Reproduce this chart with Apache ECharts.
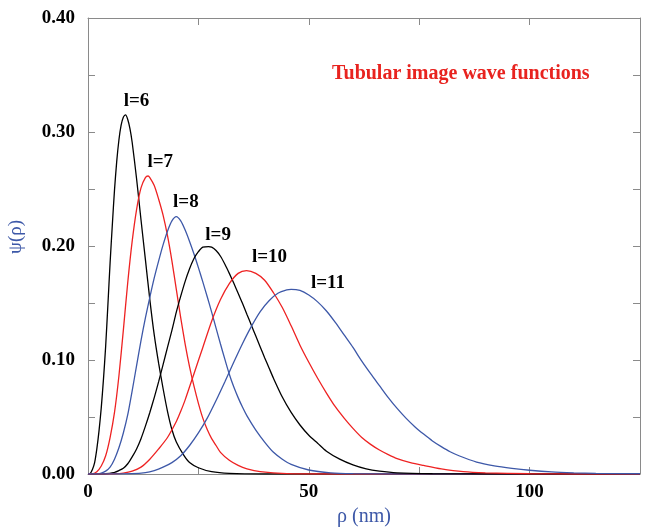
<!DOCTYPE html>
<html><head><meta charset="utf-8">
<script src="https://cdn.jsdelivr.net/npm/echarts@6/dist/echarts.min.js"></script>
<style>html,body{margin:0;padding:0;background:#fff}#c{width:645px;height:527px}</style>
</head><body><div id="c"></div>
<script>
// ---- data (rho in nm, psi) ----
const curveNames = ['l=6', 'l=7', 'l=8', 'l=9', 'l=10', 'l=11'];

const psiL6 = [[0,0],[0.5,0.0005],[1,0.004],[1.5,0.010],[2,0.022],[2.5,0.038],[3,0.058],[3.5,0.083],[4,0.112],[4.5,0.148],[5,0.185],[5.5,0.218],[6,0.249],[6.5,0.274],[7,0.293],[7.5,0.306],[8,0.313],[8.5,0.315],[9,0.311],[9.5,0.303],[10,0.291],[11,0.259],[12,0.223],[13,0.188],[14,0.153],[15,0.122],[16,0.097],[17,0.075],[18,0.055],[19,0.039],[20,0.028],[21.6,0.017],[23,0.010],[25,0.0055],[28,0.002],[32,0.0005],[40,0],[125,0]];

const psiL7 = [[0,0],[1,0.0002],[2,0.002],[3,0.007],[4,0.016],[5,0.032],[6,0.054],[7,0.086],[8,0.126],[9,0.168],[10,0.204],[11,0.232],[12,0.251],[13,0.260],[13.6,0.2614],[14,0.260],[15,0.253],[16,0.241],[17,0.227],[18,0.209],[19,0.187],[20,0.162],[21,0.137],[22,0.114],[23,0.094],[24,0.077],[25,0.062],[26,0.049],[27,0.039],[28,0.031],[29,0.025],[30,0.019],[32,0.012],[34,0.0075],[36,0.0045],[39,0.002],[45,0.0003],[55,0],[125,0]];

const psiL8 = [[0,0],[2,0.0002],[3,0.0008],[4,0.0025],[5,0.006],[6,0.013],[7,0.023],[8,0.036],[9,0.052],[10,0.073],[11,0.095],[12,0.117],[13,0.137],[14,0.155],[15,0.172],[16,0.187],[17,0.201],[18,0.213],[19,0.222],[20,0.2257],[21,0.222],[22,0.214],[23,0.204],[24,0.193],[25,0.181],[26,0.1685],[27,0.1555],[28,0.142],[29,0.128],[30,0.114],[31,0.1005],[32,0.0875],[33,0.0765],[34,0.067],[35,0.0585],[36,0.051],[38,0.0385],[40,0.028],[42,0.019],[44,0.013],[46,0.0085],[50,0.0035],[55,0.001],[60,0.0003],[70,0],[125,0]];

const psiL9 = [[0,0],[4,0.0002],[6,0.0015],[7,0.003],[8,0.005],[9,0.009],[10,0.015],[11,0.022],[12,0.031],[13,0.042],[14,0.054],[15,0.067],[16,0.081],[17,0.096],[18,0.111],[19,0.126],[20,0.142],[21,0.156],[22,0.169],[23,0.180],[24,0.189],[25,0.195],[26,0.199],[27.3,0.1994],[28,0.199],[29,0.196],[30,0.191],[31,0.184],[32,0.176],[33,0.1675],[34,0.1585],[35,0.1495],[36,0.140],[37,0.1305],[38,0.121],[39,0.1115],[40,0.102],[41,0.093],[42,0.084],[44,0.0675],[46,0.054],[48,0.043],[50,0.034],[52,0.027],[54,0.020],[57,0.013],[60,0.008],[63,0.0045],[66,0.0025],[70,0.001],[78,0.0002],[90,0],[125,0]];

const psiL10 = [[0,0],[6,0.0002],[8,0.0008],[10,0.0025],[12,0.006],[14,0.013],[16,0.022],[18,0.032],[20,0.046],[21,0.055],[22,0.065],[24,0.088],[26,0.111],[28,0.134],[30,0.153],[32,0.167],[34,0.176],[35.9,0.1784],[38,0.176],[40,0.170],[42,0.159],[44,0.146],[46,0.130],[48,0.113],[50,0.098],[52,0.084],[54,0.071],[56,0.059],[58,0.049],[60,0.040],[62,0.032],[64,0.026],[66,0.021],[68,0.017],[70,0.0135],[73,0.010],[76,0.0075],[80,0.0045],[85,0.002],[90,0.001],[100,0.0002],[110,0],[125,0]];

const psiL11 = [[0,0],[10,0.0003],[13,0.0012],[15,0.003],[17,0.006],[19,0.010],[21,0.016],[23,0.025],[25,0.036],[27,0.049],[29,0.0645],[31,0.081],[33,0.098],[35,0.1145],[37,0.1295],[39,0.1425],[41,0.152],[43,0.1585],[45,0.1615],[46,0.162],[48,0.161],[50,0.157],[52,0.151],[54,0.143],[56,0.133],[58,0.122],[60,0.111],[62,0.099],[64,0.088],[66,0.0775],[68,0.067],[70,0.0575],[72,0.049],[74,0.0415],[76,0.035],[78,0.029],[80,0.024],[82,0.0195],[84,0.016],[88,0.0105],[92,0.0072],[96,0.005],[100,0.0033],[105,0.0018],[110,0.001],[115,0.0005],[125,0.0002]];

// where each curve label sits (data coordinates)
const labelAnchors = [[10.99,0.3272],[16.35,0.2737],[22.16,0.2382],[29.46,0.2096],[41.1,0.1899],[54.33,0.1673]];

const xTickLabels = [0, 50, 100];
const yTickLabels = ['0.00', '0.10', '0.20', '0.30', '0.40'];
const chartNote = 'Tubular image wave functions';
const xTitle = 'ρ (nm)';
const yTitle = 'ψ(ρ)';

// ---- styling ----
const allCurves = [psiL6, psiL7, psiL8, psiL9, psiL10, psiL11];
const lineColors = ['#000000', '#ee2222', '#3d58a8', '#000000', '#ee2222', '#3d58a8'];
const SERIF = '"Liberation Serif", "Times New Roman", serif';
const frameColor = '#8a8a8a';

const chart = echarts.init(document.getElementById('c'), null, {renderer: 'canvas'});

function xAxisDef(pos, labels) {
  return {
    type: 'value', position: pos, min: 0, max: 125, interval: 25,
    axisLine: {show: true, onZero: false, lineStyle: {color: frameColor, width: 1}},
    axisTick: {show: true, inside: true, length: 7, lineStyle: {color: frameColor, width: 1}},
    splitLine: {show: false},
    axisLabel: labels ? {
      show: true, margin: 9, color: '#000', fontFamily: SERIF, fontWeight: 'bold', fontSize: 19,
      formatter: v => xTickLabels.indexOf(Math.round(v)) >= 0 && Math.abs(v - Math.round(v)) < 1e-6 ? String(Math.round(v)) : ''
    } : {show: false},
    name: labels ? xTitle : '',
    nameLocation: 'middle', nameGap: 32,
    nameTextStyle: {color: '#3d58a8', fontFamily: SERIF, fontSize: 20}
  };
}
function yAxisDef(pos, labels) {
  return {
    type: 'value', position: pos, min: 0, max: 0.4, interval: 0.05,
    axisLine: {show: true, onZero: false, lineStyle: {color: frameColor, width: 1}},
    axisTick: {show: true, inside: true, length: 7, lineStyle: {color: frameColor, width: 1}},
    splitLine: {show: false},
    axisLabel: labels ? {
      show: true, margin: 13, color: '#000', fontFamily: SERIF, fontWeight: 'bold', fontSize: 19,
      formatter: v => { const s = v.toFixed(2); return yTickLabels.indexOf(s) >= 0 ? s : ''; }
    } : {show: false},
    name: labels ? yTitle : '',
    nameLocation: 'middle', nameGap: 62, nameRotate: 90,
    nameTextStyle: {color: '#3d58a8', fontFamily: SERIF, fontSize: 19, padding: [0, 0, 0, 18]}
  };
}

const series = allCurves.map((d, i) => ({
  type: 'line', name: curveNames[i], data: d, xAxisIndex: 0, yAxisIndex: 0,
  showSymbol: false, smooth: 0.25, clip: true,
  lineStyle: {color: lineColors[i], width: 1.3},
  itemStyle: {color: lineColors[i]},
  markPoint: {
    symbol: 'circle', symbolSize: 0, silent: true, animation: false,
    label: {show: true, position: 'inside', formatter: '{b}', color: '#000',
            fontFamily: SERIF, fontWeight: 'bold', fontSize: 19},
    data: [{name: curveNames[i], coord: labelAnchors[i]}]
  }
}));

chart.setOption({
  animation: false,
  backgroundColor: '#fff',
  grid: {left: 88, right: 5, top: 18, bottom: 53, containLabel: false, outerBoundsMode: 'none'},
  xAxis: [xAxisDef('bottom', true), xAxisDef('top', false)],
  yAxis: [yAxisDef('left', true), yAxisDef('right', false)],
  graphic: [{
    type: 'text', left: 332, top: 64, silent: true,
    style: {text: chartNote, fill: '#e8231f', font: 'bold 20px ' + SERIF}
  }],
  series: series
});
</script>
</body></html>
